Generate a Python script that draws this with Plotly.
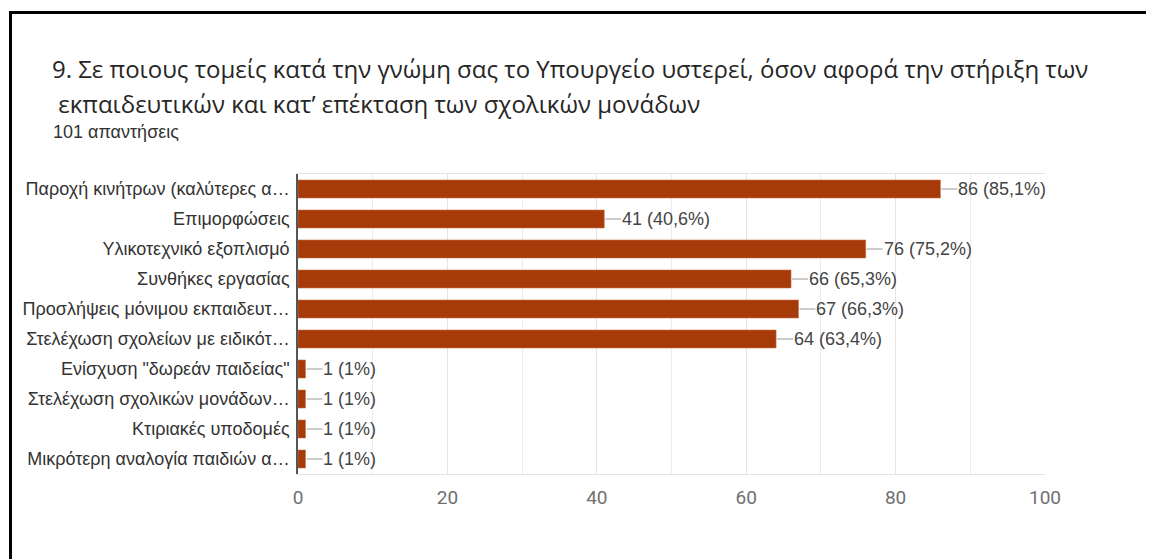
import plotly.graph_objects as go

# Survey responses (101 answers)
categories = [
    "Παροχή κινήτρων (καλύτερες α…",
    "Επιμορφώσεις",
    "Υλικοτεχνικό εξοπλισμό",
    "Συνθήκες εργασίας",
    "Προσλήψεις μόνιμου εκπαιδευτ…",
    "Στελέχωση σχολείων με ειδικότ…",
    "Ενίσχυση \"δωρεάν παιδείας\"",
    "Στελέχωση σχολικών μονάδων…",
    "Κτιριακές υποδομές",
    "Μικρότερη αναλογία παιδιών α…",
]
counts = [86, 41, 76, 66, 67, 64, 1, 1, 1, 1]
percents = ["85,1%", "40,6%", "75,2%", "65,3%", "66,3%", "63,4%", "1%", "1%", "1%", "1%"]
x_ticks = [0, 20, 40, 60, 80, 100]

title_line1 = "9. Σε ποιους τομείς κατά την γνώμη σας το Υπουργείο υστερεί, όσον αφορά την στήριξη των"
title_line2 = " εκπαιδευτικών και κατ’ επέκταση των σχολικών μονάδων"
subtitle = "101 απαντήσεις"

W, H = 1152, 560
L, R, T, B = 298, 107, 174, 86
PW, PH = W - L - R, H - T - B


def px_x(p):
    return (p - L) / PW


def px_y(p):
    return (H - B - p) / PH


BAR = "#a63a08"

fig = go.Figure(
    go.Bar(
        x=counts,
        y=categories,
        orientation="h",
        marker=dict(color=BAR, line=dict(color="#c8724a", width=0.6)),
        hoverinfo="skip",
    )
)

annotations = []
for cat, n, pct in zip(categories, counts, percents):
    annotations.append(dict(
        x=n, y=cat, xref="x", yref="y",
        text=f"{n} ({pct})",
        showarrow=True, arrowhead=0, arrowwidth=1, arrowcolor="#9a9a9a",
        ax=17, ay=0, xanchor="left", standoff=1, borderpad=0,
        font=dict(family="Liberation Sans, Arial", size=18, color="#444444"),
    ))

title_font = dict(family="Open Sans, Noto Sans", size=24, color="#262626")
annotations += [
    dict(xref="paper", yref="paper", x=px_x(50), y=px_y(68), text=title_line1,
         showarrow=False, xanchor="left", yanchor="middle", font=title_font),
    dict(xref="paper", yref="paper", x=px_x(50), y=px_y(103), text=title_line2,
         showarrow=False, xanchor="left", yanchor="middle", font=title_font),
    dict(xref="paper", yref="paper", x=px_x(51), y=px_y(132), text=subtitle,
         showarrow=False, xanchor="left", yanchor="middle",
         font=dict(family="Liberation Sans, Arial", size=18, color="#333333")),
]

# Black frame lines along the top and left edges
shapes = [
    dict(type="line", xref="paper", yref="paper",
         x0=px_x(9), x1=px_x(W - 6), y0=px_y(12.5), y1=px_y(12.5),
         line=dict(color="black", width=3)),
    dict(type="line", xref="paper", yref="paper",
         x0=px_x(10.5), x1=px_x(10.5), y0=px_y(11), y1=px_y(H - 1),
         line=dict(color="black", width=3)),
]

fig.update_layout(
    width=W, height=H,
    margin=dict(l=L, r=R, t=T, b=B, autoexpand=False),
    paper_bgcolor="white", plot_bgcolor="white",
    bargap=0.4,
    showlegend=False,
    annotations=annotations,
    shapes=shapes,
    xaxis=dict(
        range=[0, 100], tickvals=x_ticks, showgrid=True, gridcolor="#e4e4e4", gridwidth=1,
        minor=dict(dtick=10, showgrid=True, gridcolor="#ececec", gridwidth=1),
        showline=True, linecolor="#e4e4e4", linewidth=1, mirror=True,
        zeroline=False, ticks="outside", ticklen=6, tickcolor="rgba(0,0,0,0)",
        tickfont=dict(family="Liberation Sans Narrow, Roboto", size=19, color="#707070"),
        fixedrange=True,
    ),
    yaxis=dict(
        autorange="reversed", showgrid=False, zeroline=False,
        showline=True, linecolor="#555555", linewidth=1.5,
        ticks="outside", ticklen=3, tickcolor="rgba(0,0,0,0)",
        tickfont=dict(family="Liberation Sans, Arial", size=18, color="#333333"),
        fixedrange=True,
    ),
)

fig.write_html("out.html", config={"displayModeBar": False})
